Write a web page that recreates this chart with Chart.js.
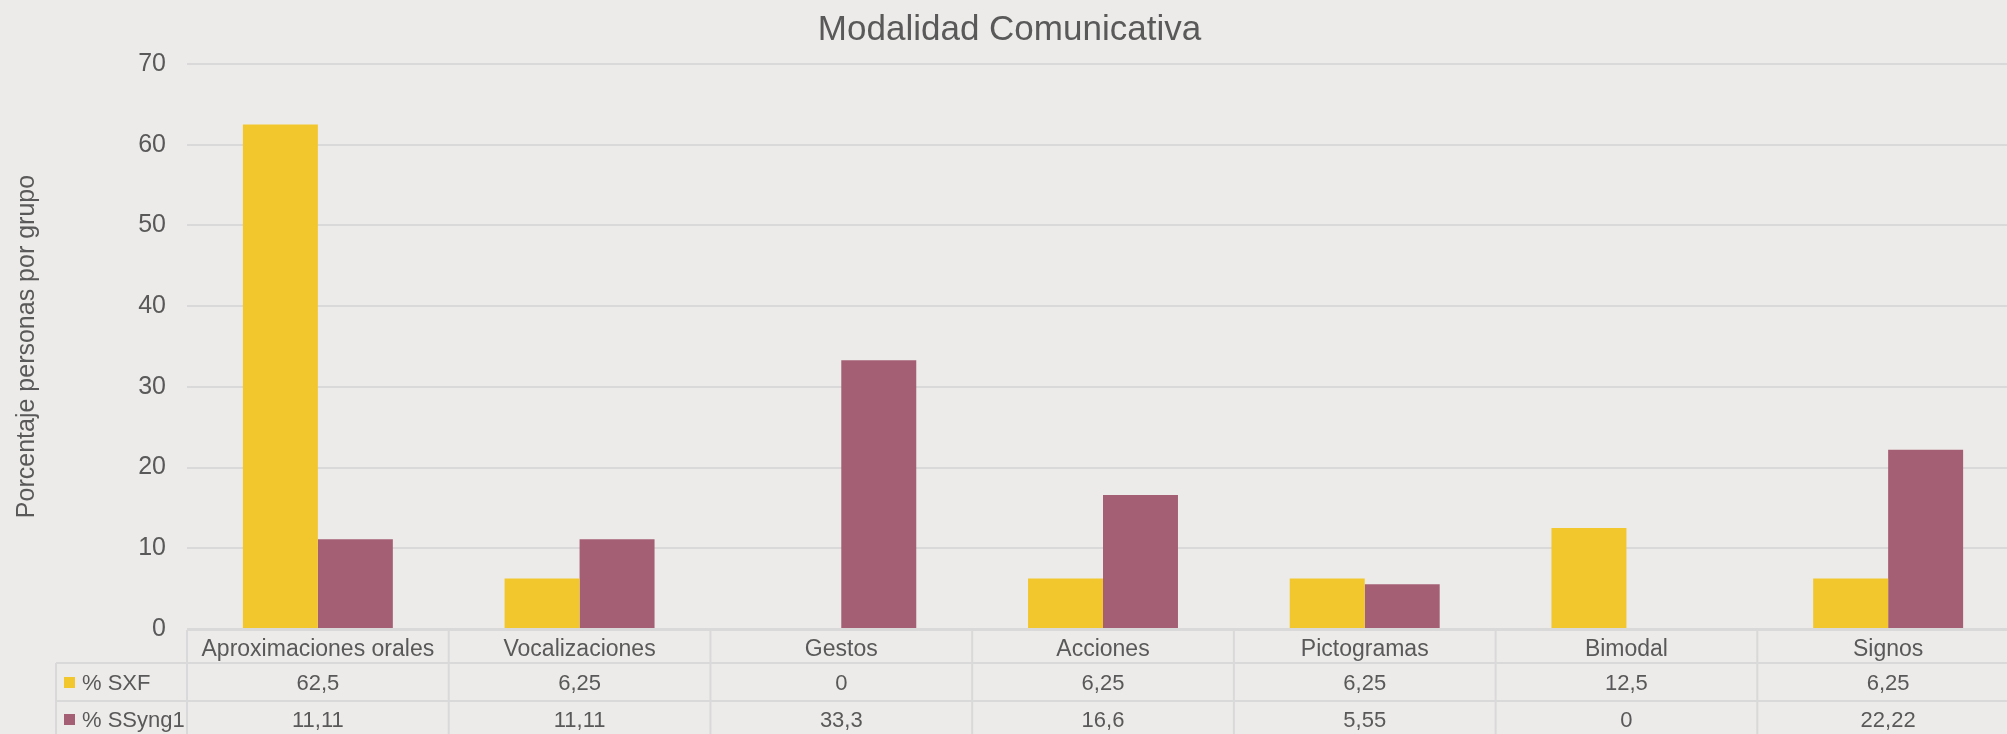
<!DOCTYPE html>
<html lang="es">
<head>
<meta charset="utf-8">
<title>Modalidad Comunicativa</title>
<script src="https://cdn.jsdelivr.net/npm/chart.js@4/dist/chart.umd.min.js"></script>
<style>
  html, body { margin: 0; padding: 0; background: #EDEBE9; overflow: hidden; }
  #wrap { width: 2020px; height: 734px; position: relative; }
</style>
</head>
<body>
<div id="wrap"><canvas id="chart"></canvas></div>
<script>
// ── Data ───────────────────────────────────────────────────────────────────
const CATEGORIES = ['Aproximaciones orales', 'Vocalizaciones', 'Gestos', 'Acciones', 'Pictogramas', 'Bimodal', 'Signos'];
const SXF_VALUES   = [62.5, 6.25, 0, 6.25, 6.25, 12.5, 6.25];
const SSYNG_VALUES = [11.11, 11.11, 33.3, 16.6, 5.55, 0, 22.22];
const SERIES_NAMES = ['% SXF', '% SSyng1'];
const Y_TICKS      = [0, 10, 20, 30, 40, 50, 60, 70];

const COLORS   = ['#F2C72E', '#A55F74'];
const TEXT     = '#595959';
const GRID     = '#D9D9D9';
const FONT     = "'Liberation Sans', Arial, sans-serif";

const fmtNum = v => String(v).replace('.', ',');

// ── Data table under the plot (drawn from the x scale) ─────────────────────
const dataTable = {
  id: 'dataTable',
  afterDraw(chart) {
    const { ctx, chartArea, scales: { x } } = chart;
    const colW   = x.getPixelForValue(1) - x.getPixelForValue(0);
    const left   = x.getPixelForValue(0) - colW / 2;
    const right  = x.getPixelForValue(CATEGORIES.length - 1) + colW / 2;
    const legendLeft = 56;
    const top    = chartArea.bottom + 1;
    const headB  = top + 33;
    const row1B  = headB + 38;
    const row2B  = row1B + 38;

    ctx.save();
    ctx.strokeStyle = GRID;
    ctx.lineWidth = 2;
    ctx.beginPath();
    ctx.moveTo(left, top);        ctx.lineTo(right, top);
    ctx.moveTo(legendLeft, headB); ctx.lineTo(right, headB);
    ctx.moveTo(legendLeft, row1B); ctx.lineTo(right, row1B);
    ctx.moveTo(legendLeft, row2B); ctx.lineTo(right, row2B);
    ctx.moveTo(legendLeft, headB); ctx.lineTo(legendLeft, row2B);
    for (let i = 0; i <= CATEGORIES.length; i++) {
      const xx = left + i * colW;
      ctx.moveTo(xx, top); ctx.lineTo(xx, row2B);
    }
    ctx.stroke();

    ctx.fillStyle = TEXT;
    ctx.textAlign = 'center';
    ctx.textBaseline = 'middle';
    ctx.font = `23px ${FONT}`;
    CATEGORIES.forEach((c, i) => ctx.fillText(c, x.getPixelForValue(i), top + 20));

    ctx.font = `22px ${FONT}`;
    const rows = [SXF_VALUES, SSYNG_VALUES];
    const rowMid = [headB + 21, row1B + 20];
    rows.forEach((vals, r) => {
      ctx.fillStyle = TEXT;
      ctx.textAlign = 'center';
      vals.forEach((v, i) => ctx.fillText(fmtNum(v), x.getPixelForValue(i), rowMid[r]));
      // legend key
      ctx.fillStyle = COLORS[r];
      ctx.fillRect(64, rowMid[r] - 7, 11, 11);
      ctx.fillStyle = TEXT;
      ctx.textAlign = 'left';
      ctx.fillText(SERIES_NAMES[r], 82, rowMid[r]);
    });
    ctx.restore();
  },
};

// ── Chart ──────────────────────────────────────────────────────────────────
new Chart(document.getElementById('chart'), {
  type: 'bar',
  data: {
    labels: CATEGORIES,
    datasets: [
      { label: SERIES_NAMES[0], data: SXF_VALUES,   backgroundColor: COLORS[0] },
      { label: SERIES_NAMES[1], data: SSYNG_VALUES, backgroundColor: COLORS[1] },
    ],
  },
  options: {
    responsive: true,
    maintainAspectRatio: false,
    animation: false,
    layout: { padding: { left: 0, right: 1, top: 0, bottom: 0 } },
    datasets: { bar: { barPercentage: 1, categoryPercentage: 0.573, borderWidth: 0 } },
    plugins: {
      legend: { display: false },
      tooltip: { enabled: false },
      title: {
        display: true,
        text: 'Modalidad Comunicativa',
        color: TEXT,
        font: { family: FONT, size: 35, weight: 'normal', lineHeight: 1.2 },
        padding: { top: 9, bottom: 13 },
      },
    },
    scales: {
      x: {
        grid: { display: false },
        border: { display: false },
        ticks: { display: false },
        afterFit: s => { s.height = 105; },
      },
      y: {
        min: 0,
        max: 70,
        afterBuildTicks: s => { s.ticks = Y_TICKS.map(v => ({ value: v })); },
        grid: { color: GRID, lineWidth: 2, drawTicks: false },
        border: { display: false },
        ticks: { color: TEXT, font: { family: FONT, size: 25 }, padding: 21 },
        title: {
          display: true,
          text: 'Porcentaje personas por grupo',
          color: TEXT,
          font: { family: FONT, size: 25, lineHeight: 1.2 },
          padding: { top: 12, bottom: 0 },
        },
        afterFit: s => { s.width = 187; },
      },
    },
  },
  plugins: [dataTable],
});
</script>
</body>
</html>
